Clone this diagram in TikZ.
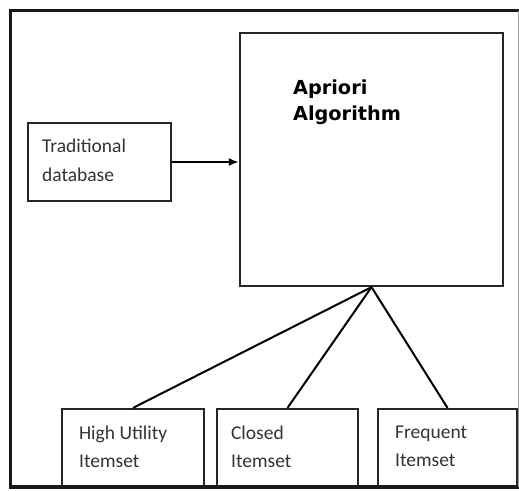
\documentclass[tikz,border=0pt]{standalone}
\usepackage{fontspec}
\usepackage{tikz}
\usetikzlibrary{arrows.meta}
\newfontfamily\boxfont{Carlito}
\newfontfamily\titlefont{DejaVu Sans}

\tikzset{
  boxnode/.style={draw=black!85,line width=2.2pt,inner sep=0pt},
  boxlabel/.style={inner sep=0pt,anchor=north west,align=left,text=black!80,
    font=\boxfont\fontsize{19.5}{28.5}\selectfont},
  titlelabel/.style={inner sep=0pt,anchor=north west,align=left,text=black,
    font=\titlefont\bfseries\fontsize{19.3}{26}\selectfont},
  link/.style={draw=black,line width=2pt}
}

\begin{document}
\begin{tikzpicture}[x=1pt,y=-1pt]
\useasboundingbox (0,0) rectangle (519,490);
% boxes:
\node[boxnode,minimum width=143pt,minimum height=78pt] (trad) at (99.5,162) {};
\node[boxnode,minimum width=263pt,minimum height=253pt] (apriori) at (371.5,159.5) {};
\node[boxnode,minimum width=142pt,minimum height=78pt] (hu) at (133,448) {};
\node[boxnode,minimum width=141pt,minimum height=78pt] (closed) at (287.5,448) {};
\node[boxnode,minimum width=139pt,minimum height=78pt] (freq) at (447.5,448) {};
% texts:
\node[boxlabel] (tradtext) at ([shift={(15,17)}]trad.north west) {Traditional\\database};
\node[titlelabel] (aprioritext) at ([shift={(54,48)}]apriori.north west) {Apriori\\Algorithm};
\node[boxlabel] (hutext) at ([shift={(18,17.5)}]hu.north west) {High Utility\\Itemset};
\node[boxlabel] (closedtext) at ([shift={(15,17.5)}]closed.north west) {Closed\\Itemset};
\node[boxlabel] (freqtext) at ([shift={(18,17.5)}]freq.north west) {Frequent\\Itemset};
% connectors:
\draw[link,-{Latex[length=10pt,width=8pt]}] (trad.east) -- (trad.east -| apriori.west);
\draw[link] (apriori.south) -- (hu.north);
\draw[link] (apriori.south) -- (closed.north);
\draw[link] (apriori.south) -- (freq.north);
% frame:
\path[draw=black!90,line width=3.5pt] (519,10.5) -- (10.5,10.5) -- (10.5,487) -- (519,487);
\path[draw=black!40,line width=0.8pt] (518,10.5) -- (518,487);
\end{tikzpicture}
\end{document}
